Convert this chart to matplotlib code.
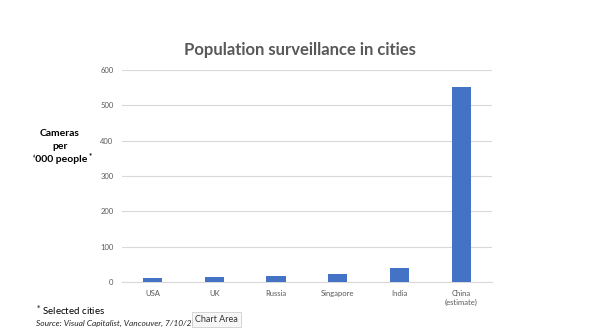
import matplotlib.pyplot as plt

# data
cities = ['USA', 'UK', 'Russia', 'Singapore', 'India', 'China\n(estimate)']
cameras = [12, 15, 16, 22, 41, 553]
yticks = [0, 100, 200, 300, 400, 500, 600]

plt.rcParams['font.family'] = ['Lato', 'DejaVu Sans']

fig = plt.figure(figsize=(6, 3.35), dpi=100)
ax = fig.add_axes([0.203, 0.158, 0.617, 0.633])

x = range(len(cities))
ax.bar(x, cameras, width=0.31, color='#4472c4', zorder=3)

ax.set_xlim(-0.5, len(cities) - 0.5)
ax.set_ylim(0, 600)
ax.set_yticks(yticks)
ax.set_xticks(list(x))
ax.set_xticklabels(cities)
ax.grid(axis='y', color='#d9d9d9', linewidth=0.8, zorder=0)
for s in ['top', 'right', 'left']:
    ax.spines[s].set_visible(False)
ax.spines['bottom'].set_color('#d9d9d9')
ax.tick_params(axis='both', length=0, labelsize=5.5, colors='#595959', pad=6)

fig.text(0.5, 0.852, 'Population surveillance in cities', ha='center', va='center',
         fontsize=12, fontweight='bold', color='#595959')

# y label, asterisk added as a small raised mark
fig.text(0.10, 0.563, "Cameras\nper\n\u2018000 people", ha='center', va='center',
         fontsize=7.5, fontweight='bold', color='black', linespacing=1.5)
fig.text(0.147, 0.527, '*', ha='left', va='baseline', fontsize=5.5, fontweight='bold')

fig.text(0.06, 0.075, '$^{*}$ Selected cities', ha='left', va='center', fontsize=7, color='black')
fig.text(0.06, 0.033, 'Source: Visual Capitalist, Vancouver, 7/10/2022', ha='left', va='center',
         fontsize=6, style='italic', color='#262626')

# tooltip captured in the screenshot
fig.text(0.325, 0.046, 'Chart Area', ha='left', va='center', fontsize=6.5, color='#333333',
         zorder=5,
         bbox=dict(boxstyle='square,pad=0.35', facecolor='#f7f7f7', edgecolor='#cfcfcf', linewidth=0.6))

fig.savefig('out.png', dpi=100)
